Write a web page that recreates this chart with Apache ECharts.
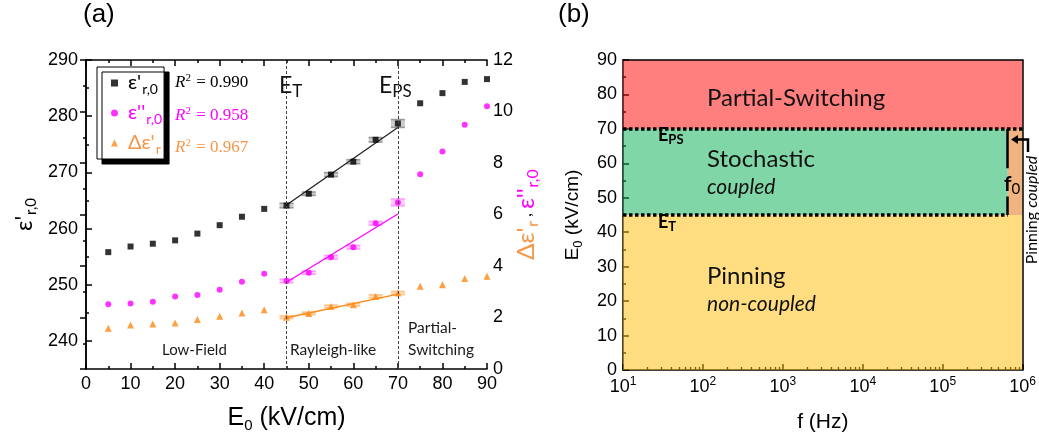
<!DOCTYPE html>
<html>
<head>
<meta charset="utf-8">
<script src="https://cdn.jsdelivr.net/npm/echarts@6.0.0/dist/echarts.min.js"></script>
<style>
html,body{margin:0;padding:0;background:#fff;}
#chart{width:1039px;height:442px;}
</style>
</head>
<body>
<div id="chart"></div>
<script>
// ---------------- Panel (a) data ----------------
const fieldE0 = [5,10,15,20,25,30,35,40,45,50,55,60,65,70,75,80,85,90];
const epsReal = [255.8,256.8,257.3,257.9,259.1,260.6,262.1,263.5,264.1,266.2,269.6,271.9,275.8,278.7,282.3,284.1,286.1,286.6];
const epsImag = [2.51,2.54,2.61,2.82,2.87,3.08,3.39,3.70,3.42,3.74,4.34,4.73,5.66,6.47,7.56,8.45,9.49,10.2];
const dEpsReal = [1.58,1.71,1.75,1.79,1.92,2.05,2.17,2.30,2.01,2.16,2.43,2.50,2.82,2.95,3.21,3.27,3.51,3.60];
const errE0 = [45,50,55,60,65,70];
const epsRealErr = [0.4,0.3,0.35,0.35,0.4,0.7];
const epsImagErr = [0.07,0.06,0.07,0.07,0.07,0.13];
const dEpsRealErr = [0.05,0.05,0.05,0.05,0.06,0.06];
const fitRange = [45,70];
const fitEpsReal = [264.2,278.0];
const fitEpsImag = [3.37,6.02];
const fitDEpsReal = [1.99,2.91];
const rSquared = ['0.990','0.958','0.967'];
const fieldT = 45, fieldPS = 70;
const xTicksA = [0,10,20,30,40,50,60,70,80,90];
const yLeftTicks = [240,250,260,270,280,290];
const yLeftMinor = [245,255,265,275,285];
const yRightTicks = [0,2,4,6,8,10,12];

// ---------------- Panel (b) data ----------------
const fLimits = [10,1e6];
const eLimits = [0,90];
const f0 = 6.5e5;
const regionNames = ['Partial-Switching','Stochastic','Pinning','Pinning coupled'];
const regionFStart = [10,10,10,f0];
const regionFEnd = [1e6,f0,1e6,1e6];
const regionEStart = [70,45,0,45];
const regionEEnd = [90,70,45,70];
const boundaryE = [70,45];
const boundaryFEnd = [1e6,f0];
const f0LabelGap = [50.4,58.6];
const yTicksB = [0,10,20,30,40,50,60,70,80,90];
const logMinor = [];
for (let d = 1; d <= 5; d++) for (let k = 2; k <= 9; k++) logMinor.push(k*Math.pow(10,d));

// ---------------- styles ----------------
const TICK = "'Liberation Sans', Arial, sans-serif";
const CAL = "Lato, 'Noto Sans', 'DejaVu Sans', sans-serif";
const SERIF = "'Liberation Serif', 'DejaVu Serif', serif";
const BLACK = '#000';
const MAG = '#ff00ff';
const ORG = '#ff8a14';
const ORG_T = '#f79646';
const regionColors = ['rgba(255,0,0,0.5)','rgba(1,173,77,0.5)','rgba(255,187,1,0.5)','rgba(225,105,5,0.5)'];

const chart = echarts.init(document.getElementById('chart'));

function errSeries(vals, errs, yIdx, color) {
  const data = errE0.map((x,i) => [x, vals[fieldE0.indexOf(x)], errs[i]]);
  return {
    type: 'custom', xAxisIndex: 0, yAxisIndex: yIdx, z: 1, silent: true,
    data: data,
    renderItem: function (params, api) {
      const x = api.value(0), v = api.value(1), e = api.value(2);
      const top = api.coord([x, v + e]);
      const bot = api.coord([x, v - e]);
      const hw = 7;
      const st = {stroke: color, lineWidth: 1.6};
      return {type: 'group', children: [
        {type:'line', shape:{x1:top[0]-hw,y1:top[1],x2:top[0]+hw,y2:top[1]}, style: st},
        {type:'line', shape:{x1:bot[0]-hw,y1:bot[1],x2:bot[0]+hw,y2:bot[1]}, style: st},
        {type:'line', shape:{x1:top[0],y1:top[1],x2:bot[0],y2:bot[1]}, style: st},
        {type:'rect', shape:{x:top[0]-hw,y:top[1],width:2*hw,height:Math.max(bot[1]-top[1],0)}, style:{fill: color, opacity:0.5}}
      ]};
    }
  };
}

const axisLineA = {show: true, lineStyle: {color: BLACK, width: 1.5}};
const labelA = {color: BLACK, fontFamily: TICK, fontSize: 18};
const supRich = {
  b: {fontFamily: TICK, fontSize: 18, color: BLACK},
  s: {fontFamily: TICK, fontSize: 12, color: BLACK, padding: [0,0,10,0]}
};

const option = {
  animation: false,
  backgroundColor: '#fff',
  grid: [
    {left: 86, top: 60, width: 401, height: 309},
    {left: 623, top: 60, width: 400, height: 310}
  ],
  legend: {
    show: true,
    left: 97, top: 67,
    orient: 'vertical',
    backgroundColor: '#fff',
    borderColor: '#000', borderWidth: 1,
    shadowColor: '#000', shadowBlur: 0, shadowOffsetX: 5, shadowOffsetY: 5,
    padding: [6, 2, 3, 14],
    itemGap: 7,
    itemWidth: 7, itemHeight: 7,
    data: ['eps1','eps2','deps'],
    formatter: function (name) {
      return {eps1: "{e|ε'}{s|r,0}", eps2: "{m|ε''}{ms|r,0}", deps: "{o|Δε'}{os|r}"}[name];
    },
    textStyle: {
      fontFamily: CAL,
      rich: {
        e: {fontSize: 20, color: BLACK, fontFamily: CAL, padding: [0,0,0,5]},
        s: {fontSize: 14, color: BLACK, fontFamily: CAL, padding: [12,0,0,1]},
        m: {fontSize: 20, color: MAG, fontFamily: CAL, padding: [0,0,0,5]},
        ms: {fontSize: 14, color: MAG, fontFamily: CAL, padding: [12,0,0,1]},
        o: {fontSize: 20, color: ORG_T, fontFamily: CAL, padding: [0,0,0,5]},
        os: {fontSize: 14, color: ORG_T, fontFamily: CAL, padding: [12,0,0,1]}
      }
    }
  },
  xAxis: [
    { // 0 panel a bottom
      gridIndex: 0, type: 'value', position: 'bottom', min: 0, max: 90, interval: 10,
      axisLine: axisLineA,
      axisTick: {show: true, inside: true, length: 6, lineStyle: {color: BLACK, width: 1.5}},
      minorTick: {show: true, splitNumber: 2, length: 3, lineStyle: {color: BLACK, width: 1.5}},
      axisLabel: Object.assign({margin: 6, customValues: xTicksA}, labelA),
      splitLine: {show: false},
      name: '{e|E}{s|0}{e| (kV/cm)}', nameLocation: 'middle', nameGap: 35,
      nameTextStyle: {rich: {
        e: {fontFamily: TICK, fontSize: 25, color: BLACK},
        s: {fontFamily: TICK, fontSize: 15, color: BLACK, padding: [14,0,0,0]}
      }}
    },
    { // 1 panel a top mirror
      gridIndex: 0, type: 'value', position: 'top', min: 0, max: 90, interval: 10,
      axisLine: axisLineA,
      axisTick: {show: true, inside: true, length: 6, lineStyle: {color: BLACK, width: 1.5}},
      minorTick: {show: true, splitNumber: 2, length: 3, lineStyle: {color: BLACK, width: 1.5}},
      axisLabel: {show: false}, splitLine: {show: false}
    },
    { // 2 panel b log bottom
      gridIndex: 1, type: 'log', logBase: 10, position: 'bottom', min: fLimits[0], max: fLimits[1],
      axisLine: {show: true, lineStyle: {color: BLACK, width: 1.5}},
      axisTick: {show: true, inside: true, length: 6, lineStyle: {color: BLACK, width: 1.5}},
      axisLabel: {margin: 6, formatter: function (v) { return '{b|10}{s|' + Math.round(Math.log10(v)) + '}'; }, rich: supRich},
      splitLine: {show: false},
      name: 'f (Hz)', nameLocation: 'middle', nameGap: 42,
      nameTextStyle: {fontFamily: TICK, fontSize: 21, color: BLACK}
    },
    { // 3 panel b minor log ticks
      gridIndex: 1, type: 'value', position: 'bottom', min: 1, max: 6,
      axisLine: {show: false},
      axisTick: {show: true, inside: true, length: 3, customValues: logMinor.map(v => Math.log10(v)), lineStyle: {color: BLACK, width: 1.3}},
      axisLabel: {show: false}, splitLine: {show: false}
    },
    { // 4 panel b top border
      gridIndex: 1, type: 'log', position: 'top', min: fLimits[0], max: fLimits[1], z: 10,
      axisLine: {show: true, lineStyle: {color: BLACK, width: 1.5}},
      axisTick: {show: false}, axisLabel: {show: false}, splitLine: {show: false}
    }
  ],
  yAxis: [
    { // 0 panel a left
      gridIndex: 0, type: 'value', position: 'left', min: 235, max: 290,
      axisLine: axisLineA,
      axisTick: {show: true, inside: true, length: 6, customValues: yLeftTicks, lineStyle: {color: BLACK, width: 1.5}},
      axisLabel: Object.assign({margin: 8, customValues: yLeftTicks}, labelA),
      splitLine: {show: false},
      name: "{e|ε'}{s|r,0}", nameLocation: 'middle', nameGap: 47, nameRotate: 90,
      nameTextStyle: {rich: {
        e: {fontFamily: CAL, fontSize: 23, color: BLACK},
        s: {fontFamily: CAL, fontSize: 15, color: BLACK, padding: [13,0,0,1]}
      }}
    },
    { // 1 panel a right
      gridIndex: 0, type: 'value', position: 'right', min: 0, max: 12, interval: 2,
      axisLine: axisLineA,
      axisTick: {show: true, inside: true, length: 6, lineStyle: {color: BLACK, width: 1.5}},
      minorTick: {show: true, splitNumber: 2, length: 3, lineStyle: {color: BLACK, width: 1.5}},
      axisLabel: Object.assign({margin: 6, customValues: yRightTicks}, labelA),
      splitLine: {show: false},
      name: "{o|Δε'}{os|r}{c| , }{m|ε''}{ms|r,0}", nameLocation: 'middle', nameGap: 24, nameRotate: 90,
      nameMoveOverlap: false,
      nameTextStyle: {rich: {
        o: {fontFamily: CAL, fontSize: 24, color: ORG_T},
        os: {fontFamily: CAL, fontSize: 16, color: ORG_T, padding: [14,0,0,1]},
        c: {fontFamily: CAL, fontSize: 16, color: BLACK},
        m: {fontFamily: CAL, fontSize: 24, color: MAG},
        ms: {fontFamily: CAL, fontSize: 16, color: MAG, padding: [14,0,0,1]}
      }}
    },
    { // 2 panel a left minor ticks
      gridIndex: 0, type: 'value', position: 'left', min: 235, max: 290,
      axisLine: {show: false},
      axisTick: {show: true, inside: true, length: 3, customValues: yLeftMinor, lineStyle: {color: BLACK, width: 1.5}},
      axisLabel: {show: false}, splitLine: {show: false}
    },
    { // 3 panel b left
      gridIndex: 1, type: 'value', position: 'left', min: eLimits[0], max: eLimits[1], interval: 10,
      axisLine: {show: true, lineStyle: {color: BLACK, width: 1.5}},
      axisTick: {show: true, inside: true, length: 6, lineStyle: {color: BLACK, width: 1.5}},
      minorTick: {show: true, splitNumber: 2, length: 3, lineStyle: {color: BLACK, width: 1.5}},
      axisLabel: Object.assign({margin: 6, customValues: yTicksB}, labelA),
      splitLine: {show: false},
      name: '{e|E}{s|0}{e| (kV/cm)}', nameLocation: 'middle', nameGap: 38, nameRotate: 90,
      nameTextStyle: {rich: {
        e: {fontFamily: TICK, fontSize: 19, color: BLACK},
        s: {fontFamily: TICK, fontSize: 13, color: BLACK, padding: [11,0,0,0]}
      }}
    },
    { // 4 panel b right border
      gridIndex: 1, type: 'value', position: 'right', min: eLimits[0], max: eLimits[1], z: 10,
      axisLine: {show: true, lineStyle: {color: BLACK, width: 1.5}},
      axisTick: {show: false}, axisLabel: {show: false}, splitLine: {show: false}
    }
  ],
  series: [
    errSeries(epsReal, epsRealErr, 0, '#9a9a9a'),
    errSeries(epsImag, epsImagErr, 1, '#ff9cff'),
    errSeries(dEpsReal, dEpsRealErr, 1, '#ffc38a'),
    {
      name: 'eps1', type: 'scatter', xAxisIndex: 0, yAxisIndex: 0, z: 4,
      symbol: 'rect', symbolSize: 6, itemStyle: {color: BLACK},
      data: fieldE0.map((x,i) => [x, epsReal[i]]),
      markLine: {
        silent: true, symbol: 'none', label: {show: false},
        lineStyle: {color: '#444', type: [3,2], width: 1},
        data: [{xAxis: fieldT}, {xAxis: fieldPS}]
      }
    },
    {
      name: 'eps2', type: 'scatter', xAxisIndex: 0, yAxisIndex: 1, z: 4,
      symbol: 'circle', symbolSize: 6, itemStyle: {color: MAG},
      data: fieldE0.map((x,i) => [x, epsImag[i]])
    },
    {
      name: 'deps', type: 'scatter', xAxisIndex: 0, yAxisIndex: 1, z: 4,
      symbol: 'triangle', symbolSize: 7, itemStyle: {color: ORG},
      data: fieldE0.map((x,i) => [x, dEpsReal[i]])
    },
    {
      type: 'line', xAxisIndex: 0, yAxisIndex: 0, z: 3, showSymbol: false, silent: true,
      lineStyle: {color: '#222', width: 1.3},
      data: fitRange.map((x,i) => [x, fitEpsReal[i]])
    },
    {
      type: 'line', xAxisIndex: 0, yAxisIndex: 1, z: 3, showSymbol: false, silent: true,
      lineStyle: {color: MAG, width: 1.3},
      data: fitRange.map((x,i) => [x, fitEpsImag[i]])
    },
    {
      type: 'line', xAxisIndex: 0, yAxisIndex: 1, z: 3, showSymbol: false, silent: true,
      lineStyle: {color: ORG, width: 1.3},
      data: fitRange.map((x,i) => [x, fitDEpsReal[i]])
    },
    // ---------- panel (b) ----------
    {
      type: 'custom', xAxisIndex: 2, yAxisIndex: 3, z: 3, silent: true,
      encode: {x: [0,2], y: [1,3]},
      data: regionNames.map((n,i) => [regionFStart[i], regionEStart[i], regionFEnd[i], regionEEnd[i]]),
      renderItem: function (params, api) {
        const p0 = api.coord([api.value(0), api.value(1)]);
        const p1 = api.coord([api.value(2), api.value(3)]);
        return {
          type: 'rect',
          shape: {x: Math.min(p0[0],p1[0]), y: Math.min(p0[1],p1[1]), width: Math.abs(p1[0]-p0[0]), height: Math.abs(p1[1]-p0[1])},
          style: {fill: regionColors[params.dataIndex]}
        };
      }
    },
    {
      type: 'line', xAxisIndex: 2, yAxisIndex: 3, z: 6, showSymbol: false, silent: true,
      lineStyle: {color: BLACK, width: 3.5, type: [3.5,2.5]},
      data: [[fLimits[0], boundaryE[0]], [boundaryFEnd[0], boundaryE[0]]]
    },
    {
      type: 'line', xAxisIndex: 2, yAxisIndex: 3, z: 6, showSymbol: false, silent: true,
      lineStyle: {color: BLACK, width: 3.5, type: [3.5,2.5]},
      data: [[fLimits[0], boundaryE[1]], [boundaryFEnd[1], boundaryE[1]]]
    },
    {
      type: 'lines', coordinateSystem: 'cartesian2d', xAxisIndex: 2, yAxisIndex: 3, z: 6, silent: true,
      lineStyle: {color: BLACK, width: 2.5, opacity: 1},
      data: [
        {coords: [[f0, regionEStart[1]], [f0, f0LabelGap[0]]]},
        {coords: [[f0, f0LabelGap[1]], [f0, regionEEnd[1]]]}
      ]
    }
  ],
  graphic: [
    {type: 'text', x: 83, y: 15, style: {text: '(a)', font: '26px ' + TICK, fill: BLACK, verticalAlign: 'middle'}},
    {type: 'text', x: 558, y: 15, style: {text: '(b)', font: '26px ' + TICK, fill: BLACK, verticalAlign: 'middle'}},
    // R^2 labels
    ...rSquared.map((r, i) => ({
      type: 'text', x: 175, y: [83, 116, 148][i], z: 100,
      style: {
        text: '{i|R}{s|2}{n| = ' + r + '}', verticalAlign: 'middle',
        rich: {
          i: {fontFamily: SERIF, fontStyle: 'italic', fontSize: 17, fill: [BLACK, MAG, ORG_T][i]},
          s: {fontFamily: SERIF, fontSize: 11, fill: [BLACK, MAG, ORG_T][i], padding: [0,1,9,0]},
          n: {fontFamily: SERIF, fontSize: 17, fill: [BLACK, MAG, ORG_T][i]}
        }
      }
    })),
    // E_T, E_PS in panel a
    {type: 'text', x: 279, y: 86, z: 100, style: {text: '{e|E}{s|T}', verticalAlign: 'middle',
      rich: {e: {fontFamily: CAL, fontSize: 23, fill: '#111'}, s: {fontFamily: CAL, fontSize: 17, fill: '#111', padding: [12,0,0,0]}}}},
    {type: 'text', x: 379, y: 86, z: 100, style: {text: '{e|E}{s|PS}', verticalAlign: 'middle',
      rich: {e: {fontFamily: CAL, fontSize: 23, fill: '#111'}, s: {fontFamily: CAL, fontSize: 17, fill: '#111', padding: [12,0,0,0]}}}},
    {type: 'text', x: 162, y: 350, style: {text: 'Low-Field', font: '15px ' + CAL, fill: '#1a1a1a', verticalAlign: 'middle'}},
    {type: 'text', x: 290, y: 350, style: {text: 'Rayleigh-like', font: '15.5px ' + CAL, fill: '#1a1a1a', verticalAlign: 'middle'}},
    {type: 'text', x: 408, y: 328, style: {text: 'Partial-', font: '15.5px ' + CAL, fill: '#1a1a1a', verticalAlign: 'middle'}},
    {type: 'text', x: 408, y: 350, style: {text: 'Switching', font: '15.5px ' + CAL, fill: '#1a1a1a', verticalAlign: 'middle'}},
    // panel b labels
    {type: 'text', x: 707, y: 98, z: 100, style: {text: 'Partial-Switching', font: '24px ' + CAL, fill: '#111', verticalAlign: 'middle'}},
    {type: 'text', x: 707, y: 159, z: 100, style: {text: 'Stochastic', font: '24px ' + CAL, fill: '#111', verticalAlign: 'middle'}},
    {type: 'text', x: 707, y: 187, z: 100, style: {text: 'coupled', font: 'italic 21px ' + CAL, fill: '#111', verticalAlign: 'middle'}},
    {type: 'text', x: 707, y: 276, z: 100, style: {text: 'Pinning', font: '24px ' + CAL, fill: '#111', verticalAlign: 'middle'}},
    {type: 'text', x: 707, y: 304, z: 100, style: {text: 'non-coupled', font: 'italic 21px ' + CAL, fill: '#111', verticalAlign: 'middle'}},
    {type: 'text', x: 658, y: 135, z: 100, style: {text: '{e|E}{s|PS}', verticalAlign: 'middle',
      rich: {e: {fontFamily: CAL, fontSize: 18, fontWeight: 'bold', fill: BLACK}, s: {fontFamily: CAL, fontSize: 13, fontWeight: 'bold', fill: BLACK, padding: [10,0,0,0]}}}},
    {type: 'text', x: 658, y: 222, z: 100, style: {text: '{e|E}{s|T}', verticalAlign: 'middle',
      rich: {e: {fontFamily: CAL, fontSize: 18, fontWeight: 'bold', fill: BLACK}, s: {fontFamily: CAL, fontSize: 13, fontWeight: 'bold', fill: BLACK, padding: [10,0,0,0]}}}},
    {type: 'text', x: 1004, y: 184, z: 100, style: {text: '{e|f}{s|0}', verticalAlign: 'middle',
      rich: {e: {fontFamily: CAL, fontSize: 21, fontWeight: 'bold', fill: BLACK}, s: {fontFamily: CAL, fontSize: 15, fill: BLACK, padding: [10,0,0,0]}}}},
    {type: 'text', x: 1032, y: 210, rotation: Math.PI/2, z: 100, style: {text: '{a|Pinning }{b|coupled}', align: 'center', verticalAlign: 'middle',
      rich: {a: {fontFamily: CAL, fontSize: 16, fill: BLACK}, b: {fontFamily: CAL, fontSize: 16, fontStyle: 'italic', fill: BLACK}}}},
    {type: 'polyline', z: 100, shape: {points: [[1028,152],[1028,139.5],[1016,139.5]]}, style: {stroke: BLACK, lineWidth: 2.5, fill: null}},
    {type: 'polygon', z: 100, shape: {points: [[1011,139.5],[1018,135],[1018,144]]}, style: {fill: BLACK}}
  ]
};
chart.setOption(option);
</script>
</body>
</html>
